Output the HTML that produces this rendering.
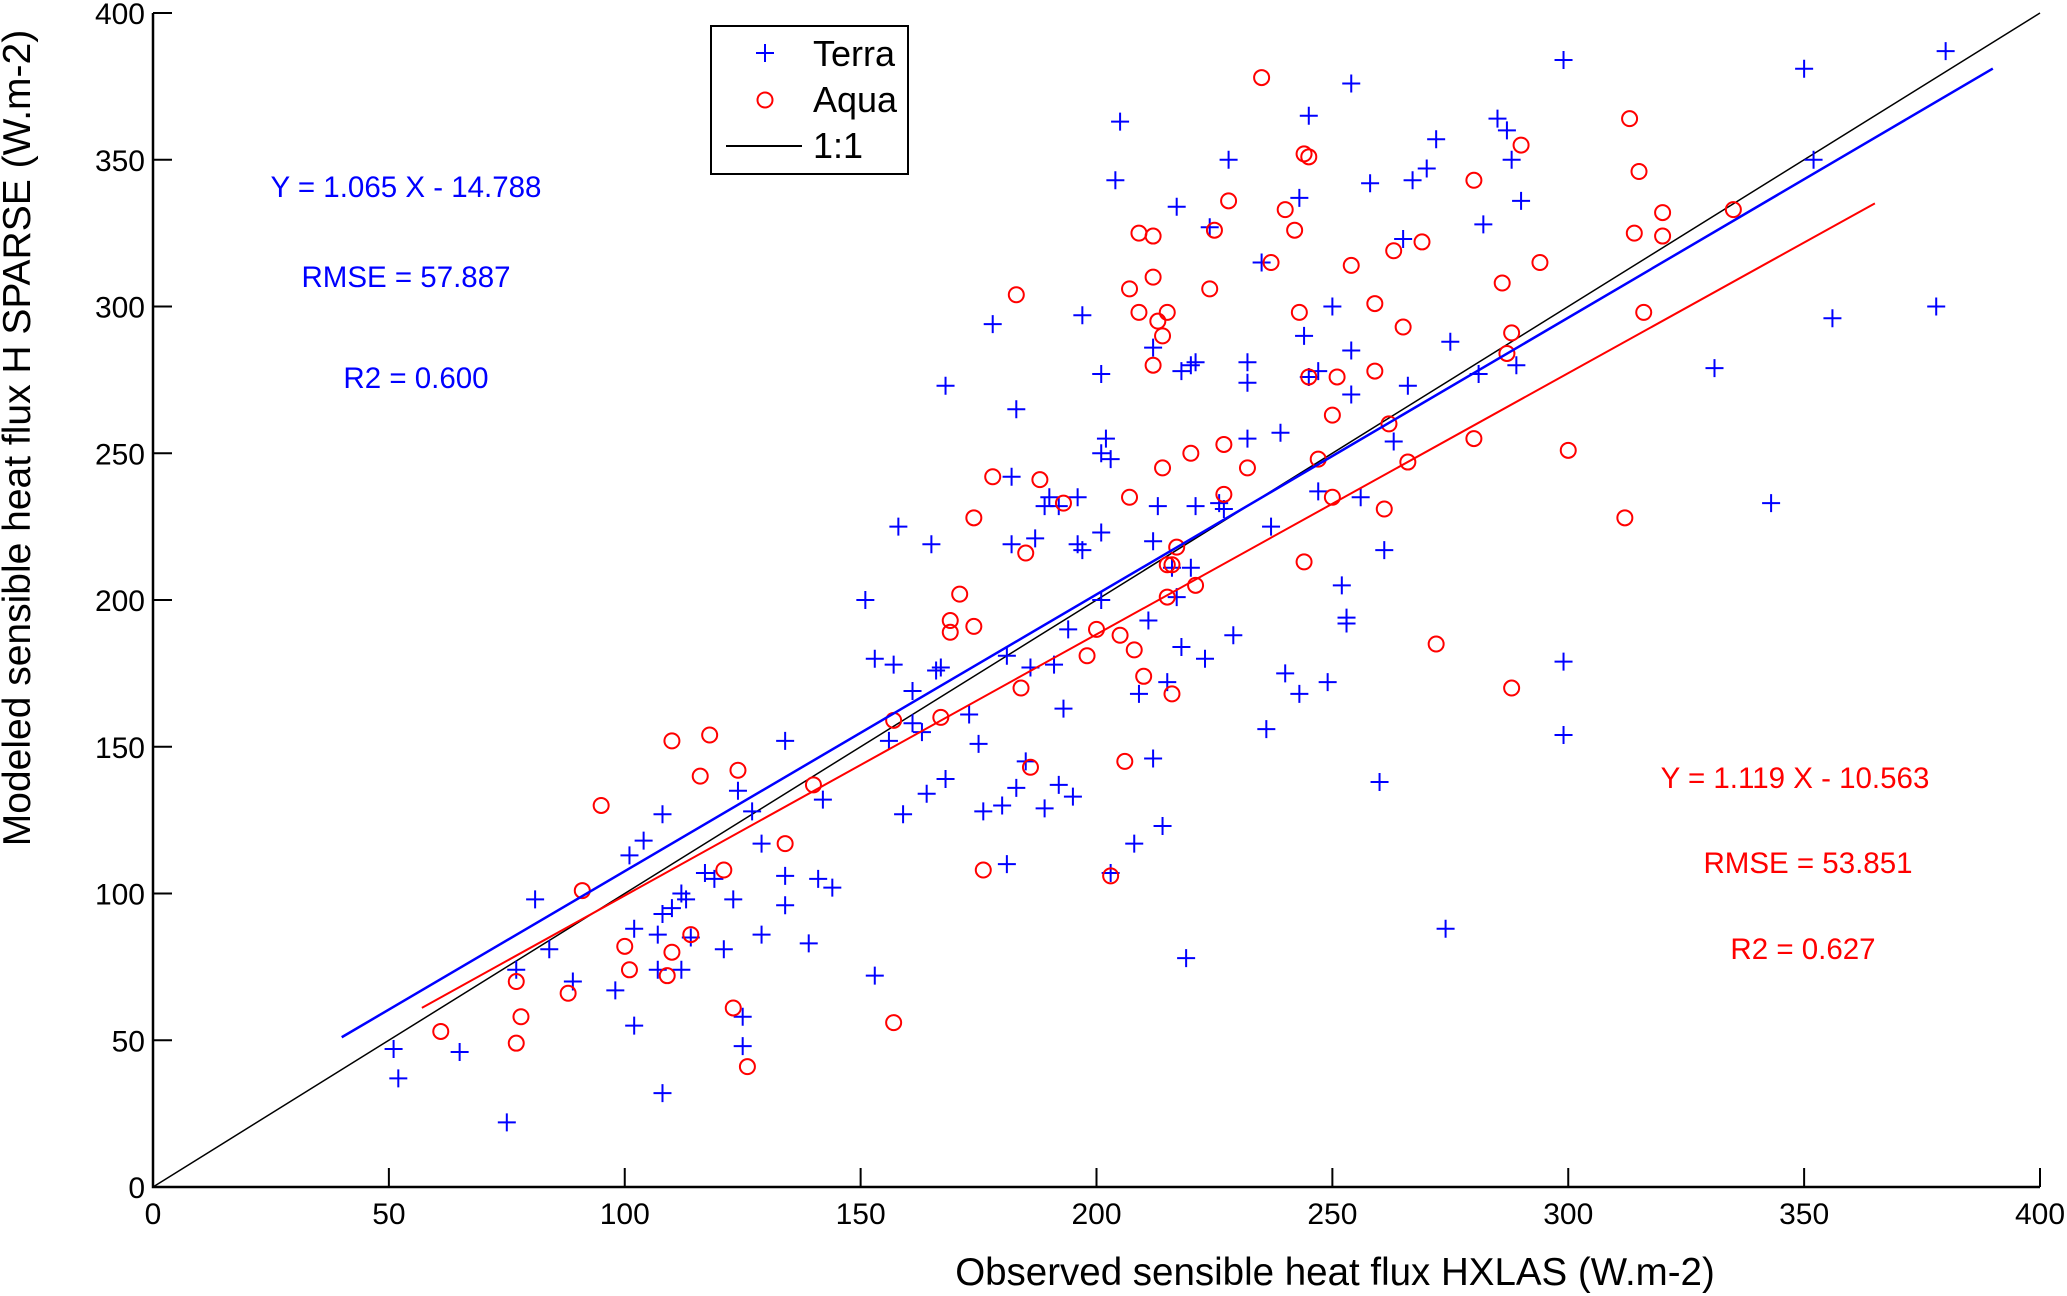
<!DOCTYPE html>
<html><head><meta charset="utf-8"><style>html,body{margin:0;padding:0;background:#fff}svg{display:block;font-family:"Liberation Sans",Arial,sans-serif}</style></head>
<body>
<svg id="chart" width="2067" height="1296" viewBox="0 0 2067 1296" xmlns="http://www.w3.org/2000/svg"></svg>
<script>
const terraX=[51,52,65,75,77,81,84,89,98,101,102,102,104,107,107,108,108,108,110,112,112,113,114,117,119,121,123,124,125,125,127,129,129,134,134,134,139,141,142,144,151,153,153,156,157,158,159,161,161,163,164,165,166,167,168,168,173,175,176,178,180,181,181,182,182,183,183,185,186,187,189,189,190,191,192,192,193,194,195,196,196,197,197,201,201,201,201,202,203,203,205,208,209,211,212,212,212,213,214,215,216,217,217,218,218,219,220,220,221,221,223,224,226,228,229,232,232,232,235,236,237,239,240,243,243,244,245,247,247,249,250,252,253,254,254,254,256,258,260,261,263,265,266,267,270,272,274,275,281,282,285,287,288,289,290,299,299,299,331,343,350,352,356,378,380,204,245,253,227];
const terraY=[47,37,46,22,74,98,81,70,67,113,55,88,118,74,86,32,127,93,95,100,74,98,85,107,105,81,98,135,58,48,128,117,86,96,152,106,83,105,132,102,200,72,180,152,178,225,127,169,158,155,134,219,176,177,139,273,161,151,128,294,130,110,181,219,242,136,265,145,177,221,129,232,235,178,232,137,163,190,133,235,219,297,217,250,200,277,223,255,248,107,363,117,168,193,146,220,286,232,123,172,211,334,201,184,278,78,280,211,281,232,180,327,233,350,188,281,274,255,315,156,225,257,175,168,337,290,365,278,237,172,300,205,192,285,376,270,235,342,138,217,254,323,273,343,347,357,88,288,277,328,364,360,350,280,336,154,384,179,279,233,381,350,296,300,387,343,276,194,231];
const aquaX=[61,77,77,78,88,91,95,100,101,109,110,110,114,116,118,121,123,124,126,134,140,157,157,167,169,169,171,174,174,176,178,183,184,185,186,188,193,198,200,203,205,206,207,207,208,209,209,210,212,212,212,213,214,214,215,215,215,216,216,217,220,221,224,225,227,227,228,232,235,237,240,242,243,244,244,245,245,247,250,250,251,254,259,259,261,262,263,265,266,269,272,280,280,286,287,288,288,290,294,300,312,313,314,315,316,320,320,335];
const aquaY=[53,70,49,58,66,101,130,82,74,72,80,152,86,140,154,108,61,142,41,117,137,56,159,160,193,189,202,191,228,108,242,304,170,216,143,241,233,181,190,106,188,145,235,306,183,298,325,174,280,310,324,295,290,245,201,212,298,212,168,218,250,205,306,326,253,236,336,245,378,315,333,326,298,213,352,351,276,248,263,235,276,314,278,301,231,260,319,293,247,322,185,255,343,308,284,170,291,355,315,251,228,364,325,346,298,332,324,333];
const fitTerra=[0.943,13.3], fitTerraRange=[40,390];
const fitAqua=[0.89,10.3], fitAquaRange=[57,365];
const ticks=[0,50,100,150,200,250,300,350,400];

const svg=document.getElementById('chart');
const NS='http://www.w3.org/2000/svg';
const X0=153,X1=2040,Y0=1187,Y1=13;
const sx=v=>X0+(X1-X0)*v/400, sy=v=>Y0-(Y0-Y1)*v/400;
function mk(tag,attrs,parent){const e=document.createElementNS(NS,tag);for(const k in attrs)e.setAttribute(k,attrs[k]);(parent||svg).appendChild(e);return e;}

const axes=mk('g',{});


mk('path',{d:`M${X0},${Y1}V${Y0}H${X1}`,stroke:'#000','stroke-width':2.5,fill:'none'},axes);
ticks.forEach(t=>{
  if(t>0){mk('line',{x1:sx(t),x2:sx(t),y1:Y0,y2:Y0-19,stroke:'#000','stroke-width':2},axes);
  mk('line',{x1:X0,x2:X0+19,y1:sy(t),y2:sy(t),stroke:'#000','stroke-width':2},axes);}
  const tx=mk('text',{x:sx(t),y:Y0+37,'text-anchor':'middle','font-size':30},axes);tx.textContent=t;
  
  
  const ty=mk('text',{x:X0-8,y:sy(t)+11,'text-anchor':'end','font-size':30},axes);ty.textContent=t;
  
  
});
const xl=mk('text',{x:1335,y:1285,'text-anchor':'middle','font-size':38.5},axes);xl.textContent='Observed sensible heat flux HXLAS (W.m-2)';


const yl=mk('text',{x:0,y:0,'text-anchor':'middle','font-size':39,transform:'translate(30,438) rotate(-90)'},axes);yl.textContent='Modeled sensible heat flux H SPARSE (W.m-2)';



const one=mk('line',{x1:sx(0),y1:sy(0),x2:sx(400),y2:sy(400),stroke:'#000','stroke-width':1.5});



const gt=mk('g',{stroke:'#0000ff','stroke-width':2,fill:'none'});


terraX.forEach((v,i)=>{const x=sx(v),y=sy(terraY[i]);
  const p=mk('path',{d:`M${x-9},${y}H${x+9}M${x},${y-9}V${y+9}`},gt);
  
  });
const ga=mk('g',{stroke:'#ff0000','stroke-width':2,fill:'none'});


aquaX.forEach((v,i)=>{
  const c=mk('circle',{cx:sx(v),cy:sy(aquaY[i]),r:7.5},ga);
  
  });

const lt=mk('line',{x1:sx(fitTerraRange[0]),y1:sy(fitTerra[0]*fitTerraRange[0]+fitTerra[1]),x2:sx(fitTerraRange[1]),y2:sy(fitTerra[0]*fitTerraRange[1]+fitTerra[1]),stroke:'#0000ff','stroke-width':2.5});


const la=mk('line',{x1:sx(fitAquaRange[0]),y1:sy(fitAqua[0]*fitAquaRange[0]+fitAqua[1]),x2:sx(fitAquaRange[1]),y2:sy(fitAqua[0]*fitAquaRange[1]+fitAqua[1]),stroke:'#ff0000','stroke-width':2});



[['Y = 1.065 X - 14.788',406,197,'#0000ff','terra-equation'],['RMSE = 57.887',406,287,'#0000ff','terra-rmse'],['R2 = 0.600',416,388,'#0000ff','terra-r2'],
 ['Y = 1.119 X - 10.563',1795,788,'#ff0000','aqua-equation'],['RMSE = 53.851',1808,873,'#ff0000','aqua-rmse'],['R2 = 0.627',1803,959,'#ff0000','aqua-r2']].forEach(a=>{
  const t=mk('text',{x:a[1],y:a[2],'text-anchor':'middle','font-size':29.5,fill:a[3]});t.textContent=a[0];
  
  });

const lg=mk('g',{});


mk('rect',{x:711,y:26,width:197,height:148,fill:'#fff',stroke:'#000','stroke-width':2},lg);
mk('path',{d:'M756,53H774M765,44V62',stroke:'#0000ff','stroke-width':2},lg);
mk('circle',{cx:765,cy:100,r:7.5,stroke:'#ff0000','stroke-width':2,fill:'none'},lg);
mk('line',{x1:726,x2:802,y1:146,y2:146,stroke:'#000','stroke-width':2},lg);
[['Terra',66,'legend-entry-terra'],['Aqua',112,'legend-entry-aqua'],['1:1',158,'legend-entry-one-to-one']].forEach(a=>{
  const t=mk('text',{x:813,y:a[1],'font-size':36},lg);t.textContent=a[0];
  
  });
</script>
</body></html>
